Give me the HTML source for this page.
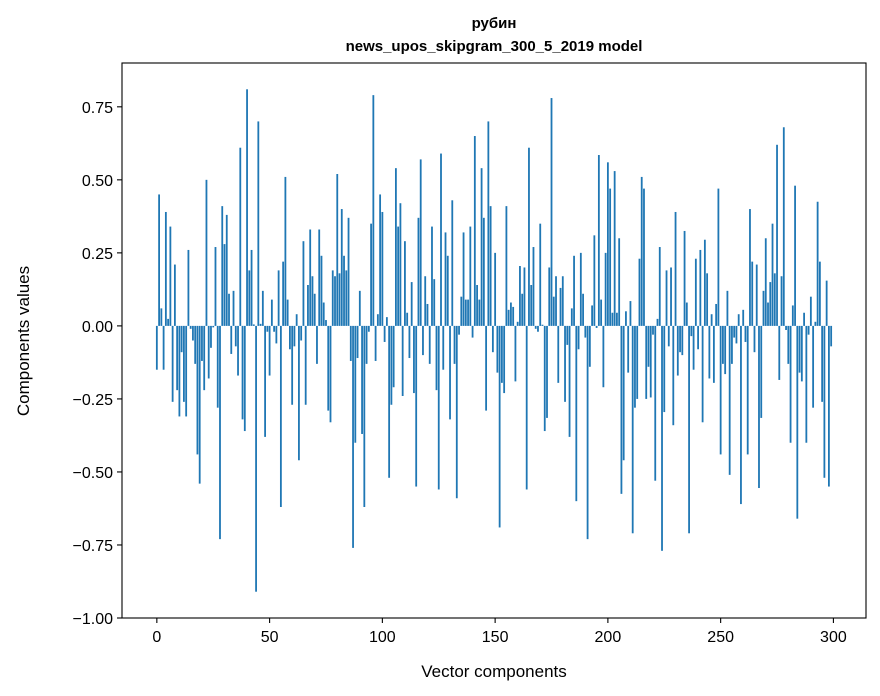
<!DOCTYPE html>
<html><head><meta charset="utf-8"><style>
body{margin:0;background:#fff}
svg{display:block;font-family:"Liberation Sans","DejaVu Sans",sans-serif}
</style></head><body>
<svg id="chart" width="880" height="696" viewBox="0 0 880 696">
<text x="494" y="28" text-anchor="middle" font-size="15" font-weight="bold">рубин</text>
<text x="494" y="51" text-anchor="middle" font-size="15" font-weight="bold">news_upos_skipgram_300_5_2019 model</text>
<g id="bars"></g>
<g id="yticks"></g>
<g id="xticks"></g>
<rect x="122" y="63" width="744" height="555" fill="none" stroke="#000" stroke-width="1.1"/>
<text x="0" y="0" transform="translate(29,341) rotate(-90)" text-anchor="middle" font-size="17">Components values</text>
<text x="494" y="677" text-anchor="middle" font-size="17">Vector components</text>
</svg>
<script>
const values = [
-0.15,0.45,0.06,-0.15,0.39,0.024,0.34,-0.26,0.21,-0.22,
-0.31,-0.09,-0.26,-0.31,0.26,-0.01,-0.05,-0.13,-0.44,-0.54,
-0.12,-0.22,0.50,-0.18,-0.075,-0.005,0.27,-0.28,-0.73,0.41,
0.28,0.38,0.11,-0.096,0.12,-0.07,-0.17,0.61,-0.32,-0.36,
0.81,0.19,0.26,0.005,-0.91,0.70,0.007,0.12,-0.38,-0.02,
-0.17,0.09,-0.02,-0.06,0.19,-0.62,0.22,0.51,0.09,-0.08,
-0.27,-0.07,0.04,-0.46,-0.05,0.29,-0.27,0.14,0.33,0.17,
0.11,-0.13,0.33,0.24,0.08,0.02,-0.29,-0.33,0.19,0.17,
0.52,0.18,0.40,0.24,0.19,0.37,-0.12,-0.76,-0.40,-0.11,
0.12,-0.37,-0.62,-0.13,-0.02,0.35,0.79,-0.12,0.04,0.45,
0.39,-0.055,0.03,-0.52,-0.27,-0.21,0.54,0.34,0.42,-0.24,
0.29,0.045,-0.11,0.15,-0.23,-0.55,0.37,0.57,-0.10,0.17,
0.075,-0.13,0.34,0.16,-0.22,-0.56,0.59,-0.15,0.32,0.24,
-0.32,0.43,-0.13,-0.59,-0.03,0.10,0.32,0.09,0.09,0.34,
-0.04,0.65,0.14,0.09,0.54,0.37,-0.29,0.70,0.41,-0.09,
0.25,-0.16,-0.69,-0.195,-0.23,0.41,0.055,0.08,0.065,-0.19,
0.014,0.205,0.11,0.20,-0.56,0.61,0.14,0.27,-0.01,-0.02,
0.35,0.004,-0.36,-0.315,0.20,0.78,0.10,0.17,-0.195,0.13,
0.17,-0.26,-0.065,-0.38,0.06,0.24,-0.60,-0.08,0.25,0.11,
-0.04,-0.73,-0.14,0.07,0.31,-0.007,0.585,0.09,-0.21,0.25,
0.56,0.47,0.045,0.53,0.045,0.30,-0.575,-0.46,0.05,-0.16,
0.085,-0.71,-0.28,-0.25,0.23,0.51,0.47,-0.25,-0.14,-0.245,
-0.03,-0.53,0.024,0.27,-0.77,-0.295,0.19,-0.07,0.20,-0.34,
0.39,-0.17,-0.09,-0.10,0.325,0.08,-0.71,-0.035,-0.15,0.23,
-0.08,0.26,-0.33,0.295,0.18,-0.18,0.04,-0.195,0.075,0.47,
-0.44,-0.13,-0.165,0.12,-0.51,-0.13,-0.04,-0.06,0.04,-0.61,
0.055,-0.055,-0.44,0.40,0.22,-0.09,0.21,-0.555,-0.315,0.12,
0.30,0.08,0.15,0.35,0.18,0.62,-0.185,0.17,0.68,-0.014,
-0.13,-0.40,0.07,0.48,-0.66,-0.16,-0.19,0.045,-0.40,-0.03,
0.10,-0.28,0.014,0.425,0.22,-0.26,-0.52,0.155,-0.55,-0.07
];
const yTicks = [-1.00,-0.75,-0.50,-0.25,0.00,0.25,0.50,0.75];
const xTicks = [0,50,100,150,200,250,300];

const NS = "http://www.w3.org/2000/svg";
const X0 = 122, X1 = 866, Y0 = 63, Y1 = 618;
const xMin = -15.45, xMax = 314.45, yMin = -1.0, yMax = 0.9;
function xs(v){ return X0 + (v - xMin) / (xMax - xMin) * (X1 - X0); }
function ys(v){ return Y1 - (v - yMin) / (yMax - yMin) * (Y1 - Y0); }

const barsG = document.getElementById('bars');
values.forEach((v, i) => {
  const r = document.createElementNS(NS, 'rect');
  const xa = xs(i - 0.4), xb = xs(i + 0.4);
  const ya = ys(Math.max(v, 0)), yb = ys(Math.min(v, 0));
  r.setAttribute('x', xa);
  r.setAttribute('width', xb - xa);
  r.setAttribute('y', ya);
  r.setAttribute('height', Math.max(yb - ya, 0.01));
  r.setAttribute('fill', '#1f77b4');
  
  
  barsG.appendChild(r);
});

const yg = document.getElementById('yticks');
yTicks.forEach(t => {
  const y = ys(t);
  const l = document.createElementNS(NS, 'line');
  l.setAttribute('x1', X0 - 5); l.setAttribute('x2', X0);
  l.setAttribute('y1', y); l.setAttribute('y2', y);
  l.setAttribute('stroke', '#000'); l.setAttribute('stroke-width', '1.1');
  
  
  yg.appendChild(l);
  const tx = document.createElementNS(NS, 'text');
  tx.setAttribute('x', X0 - 9); tx.setAttribute('y', y + 6);
  tx.setAttribute('text-anchor', 'end'); tx.setAttribute('font-size', '16');
  tx.textContent = (t < 0 ? '\u2212' : '') + Math.abs(t).toFixed(2);
  
  
  yg.appendChild(tx);
});

const xg = document.getElementById('xticks');
xTicks.forEach(t => {
  const x = xs(t);
  const l = document.createElementNS(NS, 'line');
  l.setAttribute('x1', x); l.setAttribute('x2', x);
  l.setAttribute('y1', Y1); l.setAttribute('y2', Y1 + 5);
  l.setAttribute('stroke', '#000'); l.setAttribute('stroke-width', '1.1');
  
  
  xg.appendChild(l);
  const tx = document.createElementNS(NS, 'text');
  tx.setAttribute('x', x); tx.setAttribute('y', Y1 + 24);
  tx.setAttribute('text-anchor', 'middle'); tx.setAttribute('font-size', '16');
  tx.textContent = String(t);
  
  
  xg.appendChild(tx);
});
</script>
</body></html>
